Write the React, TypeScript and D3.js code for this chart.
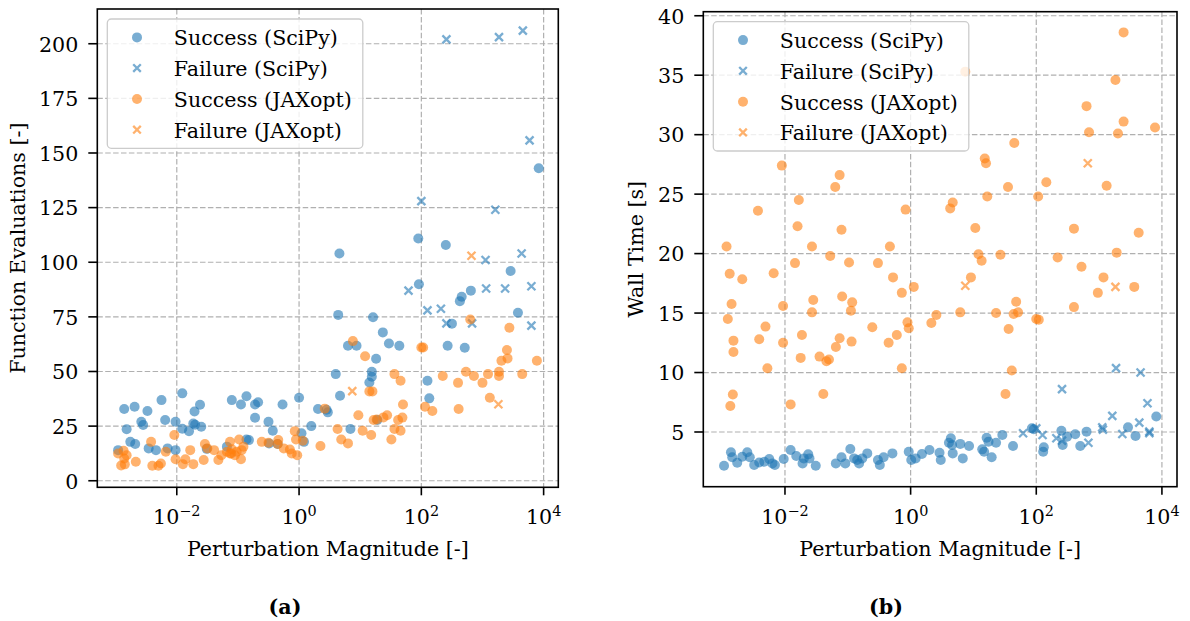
import React from 'react';
import * as d3 from 'd3';

const FONT = "'DejaVu Serif', 'Liberation Serif', serif";
const BLUE = '#1f77b4';
const ORANGE = '#ff7f0e';
const ALPHA = 0.6;

const xTickExps = [-2, 0, 2, 4];
const evalTicks = [0, 25, 50, 75, 100, 125, 150, 175, 200];
const timeTicks = [5, 10, 15, 20, 25, 30, 35, 40];
const legendLabels = ['Success (SciPy)', 'Failure (SciPy)', 'Success (JAXopt)', 'Failure (JAXopt)'];

// [log10(perturbation magnitude), function evaluations]
const scipySuccessEvals: [number, number][] = [
  [-2.96, 14], [-2.86, 32.8], [-2.69, 33.9], [-2.48, 31.9], [-2.82, 23.6], [-2.76, 17.8], [-2.68, 16.8],
  [-2.58, 27], [-2.55, 25.5], [-2.25, 36.9], [-2.19, 27.8], [-2.46, 14.8], [-2.34, 14], [-2.15, 14.8],
  [-2.02, 14], [-2.02, 27], [-1.91, 40], [-1.91, 23.8], [-1.8, 22.7], [-1.71, 31.7], [-1.62, 34.8],
  [-1.73, 26.2], [-1.7, 25.6], [-1.6, 24.7], [-1.51, 14.6], [-1.18, 15.6], [-1.1, 36.9], [-0.95, 34.9],
  [-0.86, 38.7], [-0.72, 34.9], [-0.67, 35.9], [-0.72, 28.8], [-0.86, 18.9], [-0.82, 18.6], [-0.5, 27],
  [-0.43, 22.9], [-0.49, 17.1], [-0.35, 16.8], [-0.27, 34.9], [0.0, 38], [0.04, 21.7], [0.08, 17.8],
  [0.2, 25], [0.31, 32.8], [0.47, 31.3], [0.45, 32.5], [0.66, 104], [1.95, 110.9], [2.4, 107.9],
  [1.96, 89.9], [3.46, 96], [2.81, 87], [2.66, 84.2], [2.63, 82.2], [3.58, 76.9], [0.64, 75.9],
  [1.21, 74.8], [2.5, 71.9], [1.37, 67.9], [0.8, 61.8], [0.94, 61.8], [1.47, 62.8], [1.64, 61.8],
  [2.43, 61.8], [2.71, 60.9], [1.26, 55.8], [0.6, 48.8], [1.19, 49.9], [1.19, 47.6], [1.15, 45],
  [2.1, 45.8], [2.13, 37.7], [0.67, 38.9], [1.28, 27.8], [0.84, 23.7], [3.92, 143],
];

// [log10(perturbation magnitude), wall time in s]
const scipySuccessTime: [number, number][] = [
  [-2.97, 2.16], [-2.86, 3.29], [-2.84, 2.87], [-2.76, 2.42], [-2.68, 2.92], [-2.6, 3.29], [-2.56, 2.87],
  [-2.49, 2.22], [-2.41, 2.44], [-2.33, 2.5], [-2.25, 2.73], [-2.2, 2.36], [-2.16, 2.22], [-2.02, 2.73],
  [-1.91, 3.48], [-1.82, 2.98], [-1.72, 2.36], [-1.7, 2.78], [-1.63, 3.12], [-1.61, 2.78], [-1.51, 2.16],
  [-1.19, 2.36], [-1.1, 2.87], [-1.04, 2.36], [-0.96, 3.57], [-0.9, 2.78], [-0.82, 2.36], [-0.85, 2.64],
  [-0.77, 2.78], [-0.69, 3.2], [-0.52, 2.64], [-0.49, 2.22], [-0.43, 2.87], [-0.29, 3.2], [-0.03, 3.34],
  [0.01, 2.64], [0.08, 2.78], [0.18, 3.15], [0.3, 3.48], [0.46, 3.26], [0.48, 2.64], [0.61, 4.1],
  [0.64, 4.47], [0.66, 3.9], [0.67, 3.2], [0.79, 4.0], [0.83, 2.78], [0.93, 3.82], [1.14, 3.54],
  [1.17, 3.34], [1.21, 4.52], [1.24, 4.19], [1.29, 2.87], [1.36, 4.1], [1.46, 4.75], [1.63, 3.82],
  [1.93, 5.31], [1.96, 5.23], [2.12, 3.71], [2.11, 3.34], [2.4, 5.11], [2.42, 3.9], [2.49, 4.61],
  [2.62, 4.81], [2.7, 3.82], [2.8, 5.03], [3.46, 5.39], [3.58, 4.66], [3.91, 6.3],
];

const scipyFailureLogMag = [1.79, 2.0, 2.1, 2.32, 2.41, 2.41, 2.83, 3.05, 3.06, 3.21, 3.27, 3.37, 3.64, 3.66, 3.77, 3.8, 3.8];
const scipyFailureEvals = [87, 128, 78, 78.7, 202, 72, 72, 101, 88, 124, 203, 88, 104, 206, 155.8, 89, 71];
const scipyFailureTime = [4.89, 5.3, 4.75, 4.47, 8.6, 4.27, 4.1, 5.39, 5.2, 6.35, 10.37, 4.83, 5.79, 10.0, 7.42, 5.03, 4.9];

const jaxSuccessEvals: [number, number][] = [
  [-2.96, 12.5], [-2.87, 13.7], [-2.82, 11.7], [-2.91, 7], [-2.85, 7.5], [-2.86, 10.2], [-2.67, 8.7],
  [-2.42, 17.8], [-2.4, 6.9], [-2.3, 6.9], [-2.26, 7.9], [-2.18, 13.3], [-2.04, 20.9], [-2.02, 9.8],
  [-1.9, 7.6], [-1.86, 9.8], [-1.78, 14], [-1.73, 7.6], [-1.56, 9.5], [-1.54, 16.8], [-1.5, 14.8],
  [-1.39, 14], [-1.32, 9.5], [-1.27, 11.7], [-1.18, 13.3], [-1.13, 17.8], [-1.1, 14.4], [-1.13, 12.5],
  [-1.05, 11.7], [-0.98, 18.9], [-0.94, 14], [-0.95, 9.8], [-0.91, 15.6], [-1.02, 13.3], [-1.11, 12.5],
  [-0.61, 17.8], [-0.5, 17.4], [-0.34, 18.6], [-0.35, 16.8], [-0.25, 14.8], [-0.15, 14.3], [-0.12, 12.5],
  [-0.03, 11.7], [-0.07, 22.7], [-0.05, 18.9], [0.06, 18.3], [0.35, 15.9], [0.42, 33], [0.63, 23.7],
  [0.69, 18.9], [0.8, 17.1], [0.88, 63.9], [0.97, 30], [1.04, 22.9], [1.08, 57], [1.15, 40.9],
  [1.2, 40.9], [1.18, 20.9], [1.22, 27.8], [1.27, 28], [1.38, 29], [1.44, 30], [1.51, 18.9],
  [1.56, 48.8], [1.66, 45.8], [1.56, 23.7], [1.66, 22.9], [1.62, 27.8], [1.69, 28.9], [1.7, 34.9],
  [2.0, 61], [2.03, 61], [2.06, 33.9], [2.18, 31.9], [2.35, 47.9], [2.6, 44.8], [2.61, 32.8],
  [2.73, 49.9], [2.8, 73.8], [2.86, 47.9], [3.0, 44.8], [3.09, 48.8], [3.12, 38], [3.27, 47.9],
  [3.27, 49.9], [3.31, 54.9], [3.4, 59.8], [3.41, 56], [3.44, 70], [3.65, 48.8], [3.89, 54.9],
];

const jaxSuccessTime: [number, number][] = [
  [3.39, 38.6], [0.87, 35.3], [3.26, 34.6], [2.8, 32.4], [3.39, 31.1], [2.84, 30.2], [3.3, 30.1],
  [3.89, 30.6], [1.65, 29.3], [1.18, 28.0], [1.2, 27.6], [-2.05, 27.4], [-1.13, 26.6], [-1.2, 25.6],
  [1.55, 25.6], [2.16, 26.0], [2.03, 24.8], [1.22, 24.8], [3.12, 25.7], [-1.78, 24.5], [-2.43, 23.6],
  [-0.08, 23.7], [0.67, 24.3], [0.63, 23.8], [-1.8, 22.3], [-1.1, 22.0], [1.03, 22.15], [2.6, 22.1],
  [3.63, 21.75], [-2.93, 20.6], [-1.57, 20.6], [-0.33, 20.6], [-1.28, 19.8], [-0.98, 19.25],
  [-1.84, 19.2], [-0.52, 19.2], [-2.88, 18.3], [-2.68, 17.85], [-2.18, 18.35], [-0.28, 18.0],
  [-0.14, 16.7], [0.05, 17.2], [1.08, 19.95], [1.13, 19.4], [1.43, 19.9], [0.96, 18.0], [2.34, 19.67],
  [2.72, 18.9], [3.28, 20.08], [3.07, 18.0], [2.98, 16.7], [3.56, 17.2], [2.6, 15.5], [-2.85, 15.76],
  [-2.91, 14.5], [-2.03, 15.6], [-1.55, 16.1], [-1.57, 15.06], [-1.09, 16.4], [-0.93, 15.9],
  [-0.95, 15.2], [-2.31, 13.86], [-2.82, 12.68], [-2.82, 11.73], [-2.41, 12.8], [-2.03, 12.5],
  [-1.73, 13.16], [-1.13, 12.88], [-1.19, 12.15], [-0.94, 12.6], [-1.45, 11.34], [-1.34, 10.95],
  [-1.3, 11.09], [-1.75, 11.23], [-0.61, 13.8], [-0.22, 13.16], [-0.35, 12.5], [-0.05, 14.22],
  [-0.03, 13.72], [0.33, 14.16], [0.41, 14.83], [0.79, 15.06], [1.36, 15.0], [1.64, 14.92],
  [1.71, 15.06], [1.68, 15.95], [1.56, 13.66], [2.0, 14.5], [2.04, 14.44], [-2.28, 10.36],
  [-0.14, 10.36], [1.61, 10.17], [-2.83, 8.16], [-2.87, 7.18], [-1.91, 7.32], [-1.39, 8.2], [1.51, 8.2],
];

const jaxFailureLogMag = [0.87, 2.82, 3.26];
const jaxFailureEvals = [41, 103, 35];
const jaxFailureTime = [17.3, 27.6, 17.2];

const xLogDomain = [-3.3, 4.24];

type Pt = [number, number];

function Cross({ x, y, color, s = 4 }: { x: number; y: number; color: string; s?: number }) {
  return (
    <path
      d={`M${x - s},${y - s}L${x + s},${y + s}M${x - s},${y + s}L${x + s},${y - s}`}
      stroke={color}
      strokeOpacity={ALPHA}
      strokeWidth={2.3}
      fill="none"
    />
  );
}

function Panel(props: {
  x0: number; x1: number; y0: number; y1: number;
  yDomain: [number, number]; yTicks: number[];
  ylabel: string; ylabelX: number;
  succS: Pt[]; failS: Pt[]; succJ: Pt[]; failJ: Pt[];
  caption: string; captionX: number;
}) {
  const { x0, x1, y0, y1, yDomain, yTicks } = props;
  const xs = d3.scaleLog().domain([10 ** xLogDomain[0], 10 ** xLogDomain[1]]).range([x0, x1]);
  const ys = d3.scaleLinear().domain(yDomain).range([y1, y0]);
  const fs = 20.6;
  const cx = (x0 + x1) / 2;
  const cy = (y0 + y1) / 2;
  const lx = x0 + 10;
  const ly = y0 + 10;
  const rows = [18.4, 49.1, 80, 110.7];
  const colors = [BLUE, BLUE, ORANGE, ORANGE];
  const R = 5;
  return (
    <g fontFamily={FONT} fill="#000">
      {xTickExps.map((e) => (
        <line key={'gx' + e} x1={xs(10 ** e)} x2={xs(10 ** e)} y1={y0} y2={y1}
          stroke="#b0b0b0" strokeWidth={1.2} strokeDasharray="5.5,2.4" />
      ))}
      {yTicks.map((t) => (
        <line key={'gy' + t} x1={x0} x2={x1} y1={ys(t)} y2={ys(t)}
          stroke="#b0b0b0" strokeWidth={1.2} strokeDasharray="5.5,2.4" />
      ))}
      {props.succS.map((p, i) => (
        <circle key={'ss' + i} cx={xs(10 ** p[0])} cy={ys(p[1])} r={R} fill={BLUE} fillOpacity={ALPHA} />
      ))}
      {props.failS.map((p, i) => (
        <Cross key={'fs' + i} x={xs(10 ** p[0])} y={ys(p[1])} color={BLUE} />
      ))}
      {props.succJ.map((p, i) => (
        <circle key={'sj' + i} cx={xs(10 ** p[0])} cy={ys(p[1])} r={R} fill={ORANGE} fillOpacity={ALPHA} />
      ))}
      {props.failJ.map((p, i) => (
        <Cross key={'fj' + i} x={xs(10 ** p[0])} y={ys(p[1])} color={ORANGE} />
      ))}
      <rect x={x0} y={y0} width={x1 - x0} height={y1 - y0} fill="none" stroke="#000" strokeWidth={1.6} />
      {xTickExps.map((e) => (
        <g key={'xt' + e}>
          <line x1={xs(10 ** e)} x2={xs(10 ** e)} y1={y1} y2={y1 + 8} stroke="#000" strokeWidth={1.6} />
          <text x={xs(10 ** e)} y={523.5} textAnchor="middle" fontSize={fs}>
            10<tspan fontSize={14.4} dy={-8}>{e < 0 ? '\u2212' + Math.abs(e) : String(e)}</tspan>
          </text>
        </g>
      ))}
      {yTicks.map((t) => (
        <g key={'yt' + t}>
          <line x1={x0 - 9} x2={x0} y1={ys(t)} y2={ys(t)} stroke="#000" strokeWidth={1.6} />
          <text x={x0 - 19} y={ys(t) + 7.8} textAnchor="end" fontSize={fs}>{t}</text>
        </g>
      ))}
      <text x={cx} y={556} textAnchor="middle" fontSize={fs}>Perturbation Magnitude [-]</text>
      <text transform={`translate(${props.ylabelX},${cy}) rotate(-90)`} textAnchor="middle" fontSize={fs}>
        {props.ylabel}
      </text>
      <text x={props.captionX} y={613.5} textAnchor="middle" fontSize={fs} fontWeight="bold">{props.caption}</text>
      <rect x={lx} y={ly} width={255.5} height={129.3} rx={4} ry={4}
        fill="#fff" fillOpacity={0.8} stroke="#cccccc" strokeWidth={1.3} />
      {legendLabels.map((lab, i) => (
        <g key={'lg' + i}>
          {i % 2 === 0 ? (
            <circle cx={lx + 29.7} cy={ly + rows[i]} r={R} fill={colors[i]} fillOpacity={ALPHA} />
          ) : (
            <Cross x={lx + 29.7} y={ly + rows[i]} color={colors[i]} s={3.8} />
          )}
          <text x={lx + 66.5} y={ly + rows[i] + 7.8} fontSize={fs}>{lab}</text>
        </g>
      ))}
    </g>
  );
}

export default function App() {
  const failSEvals: Pt[] = scipyFailureLogMag.map((m, i) => [m, scipyFailureEvals[i]]);
  const failSTime: Pt[] = scipyFailureLogMag.map((m, i) => [m, scipyFailureTime[i]]);
  const failJEvals: Pt[] = jaxFailureLogMag.map((m, i) => [m, jaxFailureEvals[i]]);
  const failJTime: Pt[] = jaxFailureLogMag.map((m, i) => [m, jaxFailureTime[i]]);
  return (
    <svg width={1190} height={621} style={{ position: 'absolute', left: 0, top: 0, background: '#fff' }}>
      <rect width={1190} height={621} fill="#fff" />
      <Panel x0={97.3} x1={558.3} y0={9} y1={487.3} yDomain={[-3.0, 215.9]} yTicks={evalTicks}
        ylabel="Function Evaluations [-]" ylabelX={25}
        succS={scipySuccessEvals} failS={failSEvals} succJ={jaxSuccessEvals} failJ={failJEvals}
        caption="(a)" captionX={285} />
      <Panel x0={703.3} x1={1177} y0={11.7} y1={486.7} yDomain={[0.4, 40.34]} yTicks={timeTicks}
        ylabel="Wall Time [s]" ylabelX={643}
        succS={scipySuccessTime} failS={failSTime} succJ={jaxSuccessTime} failJ={failJTime}
        caption="(b)" captionX={886} />
    </svg>
  );
}
